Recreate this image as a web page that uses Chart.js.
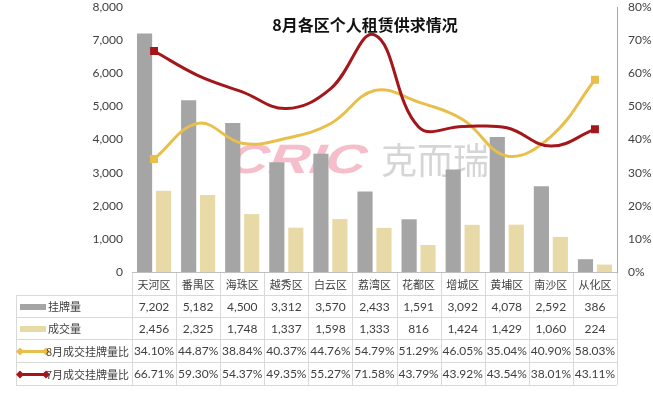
<!DOCTYPE html>
<html>
<head>
<meta charset="utf-8">
<script src="https://cdn.jsdelivr.net/npm/chart.js@4/dist/chart.umd.min.js"></script>
<style>
  html, body { margin: 0; padding: 0; background: #fff; }
  #wrap { width: 653px; height: 409px; }
</style>
</head>
<body>
<div id="wrap"><canvas id="chart1" width="653" height="409"></canvas></div>
<script>
let districts = [`天河区`, `番禺区`, `海珠区`, `越秀区`, `白云区`, `荔湾区`, `花都区`, `增城区`, `黄埔区`, `南沙区`, `从化区`];
let listing = [7202, 5182, 4500, 3312, 3570, 2433, 1591, 3092, 4078, 2592, 386];
let deals = [2456, 2325, 1748, 1337, 1598, 1333, 816, 1424, 1429, 1060, 224];
let ratioAug = [34.10, 44.87, 38.84, 40.37, 44.76, 54.79, 51.29, 46.05, 35.04, 40.90, 58.03];
let ratioJul = [66.71, 59.30, 54.37, 49.35, 55.27, 71.58, 43.79, 43.92, 43.54, 38.01, 43.11];

const GRAY = `#a5a5a5`;
const BEIGE = `#e8daa6`;
const YELLOW = `#e8bf4c`;
const RED = `#a3161a`;
const TEXT = `#404040`;
const CJK = `"Noto Sans CJK SC", "Noto Sans", sans-serif`;
const NUM = `Lato, "Noto Sans", sans-serif`;

// dots only at both ends of each line
const endPoint = (ctx) => (ctx.dataIndex === 0 || ctx.dataIndex === districts.length - 1) ? 3.5 : 0;

const fmtNum = (v) => v.toLocaleString(`en-US`);
const fmtPct = (v) => v.toFixed(2) + `%`;

// title + watermark
const decor = {
    id: `decor`,
    beforeDatasetsDraw(chart) {
        const ctx = chart.ctx;
        ctx.save();
        ctx.globalAlpha = 0.8;
        ctx.fillStyle = `#f2aebd`;
        ctx.font = `italic bold 41px "Liberation Sans", sans-serif`;
        ctx.textBaseline = `middle`;
        ctx.translate(228, 162);
        ctx.transform(1, 0, -0.15, 1, 0, 0);
        ctx.scale(1.38, 1);
        ctx.fillText(`CRIC`, 0, 0);
        ctx.restore();
        ctx.save();
        ctx.globalAlpha = 0.8;
        ctx.fillStyle = `#cacaca`;
        ctx.font = `36px ` + CJK;
        ctx.textBaseline = `middle`;
        ctx.fillText(`克而瑞`, 381, 160);
        ctx.restore();
    },
    afterDraw(chart) {
        const ctx = chart.ctx;
        ctx.save();
        ctx.fillStyle = `#111`;
        ctx.font = `bold 16px ` + CJK;
        ctx.textAlign = `center`;
        ctx.textBaseline = `middle`;
        ctx.fillText(`8月各区个人租赁供求情况`, 365, 25);
        ctx.restore();
    }
};

// data table under the plot
const dataTable = {
    id: `dataTable`,
    afterDraw(chart) {
        const { ctx, chartArea } = chart;
        const x = chart.scales.x;
        const colW = (chartArea.right - chartArea.left) / districts.length;
        const left = 16;
        const top = chartArea.bottom + 1;
        const rowY = [top, 295, 317, 339, 362, 385];
        const rows = [
            { label: `挂牌量`, values: listing, fmt: fmtNum, kind: `bar`, color: GRAY },
            { label: `成交量`, values: deals, fmt: fmtNum, kind: `bar`, color: BEIGE },
            { label: `8月成交挂牌量比`, values: ratioAug, fmt: fmtPct, kind: `line`, color: YELLOW },
            { label: `7月成交挂牌量比`, values: ratioJul, fmt: fmtPct, kind: `line`, color: RED }
        ];
        ctx.save();
        ctx.strokeStyle = `#d9d9d9`;
        ctx.lineWidth = 1;
        // horizontal lines
        for (let r = 1; r < rowY.length; r++) {
            ctx.beginPath();
            ctx.moveTo(left, rowY[r] + 0.5);
            ctx.lineTo(chartArea.right, rowY[r] + 0.5);
            ctx.stroke();
        }
        // vertical lines
        ctx.beginPath();
        ctx.moveTo(left + 0.5, rowY[1]);
        ctx.lineTo(left + 0.5, rowY[5]);
        for (let i = 0; i <= districts.length; i++) {
            const xx = Math.round(chartArea.left + i * colW) + 0.5;
            ctx.moveTo(xx, top);
            ctx.lineTo(xx, rowY[5]);
        }
        ctx.stroke();

        ctx.fillStyle = TEXT;
        ctx.font = `11px ` + CJK;
        ctx.textAlign = `center`;
        ctx.textBaseline = `middle`;
        districts.forEach((d, i) => {
            ctx.fillText(d, x.getPixelForValue(i), (rowY[0] + rowY[1]) / 2 + 1);
        });
        rows.forEach((row, r) => {
            const cy = (rowY[r + 1] + rowY[r + 2]) / 2 + 1;
            ctx.fillStyle = TEXT;
            ctx.textAlign = `center`;
            ctx.font = `12px ` + NUM;
            row.values.forEach((v, i) => {
                ctx.fillText(row.fmt(v), x.getPixelForValue(i), cy);
            });
            // legend key
            if (row.kind === `bar`) {
                ctx.fillStyle = row.color;
                ctx.fillRect(20, cy - 3, 26, 6);
            } else {
                ctx.strokeStyle = row.color;
                ctx.lineWidth = 3;
                ctx.beginPath();
                ctx.moveTo(20, cy);
                ctx.lineTo(46, cy);
                ctx.stroke();
                ctx.fillStyle = row.color;
                [20, 46].forEach(px => {
                    ctx.beginPath();
                    ctx.moveTo(px, cy - 4);
                    ctx.lineTo(px + 4, cy);
                    ctx.lineTo(px, cy + 4);
                    ctx.lineTo(px - 4, cy);
                    ctx.closePath();
                    ctx.fill();
                });
            }
            ctx.fillStyle = TEXT;
            ctx.textAlign = `left`;
            ctx.font = `11px ` + CJK;
            ctx.fillText(row.label, row.kind === `bar` ? 48 : 46, cy);
        });
        ctx.restore();
    }
};

let canva1 = document.querySelector(`#chart1`);

new Chart(canva1, {
    type: `bar`,
    data: {
        labels: districts,
        datasets: [
            {
                type: `line`,
                label: `7月成交挂牌量比`,
                data: ratioJul,
                yAxisID: `y1`,
                borderColor: RED,
                backgroundColor: RED,
                borderWidth: 3,
                tension: 0.4,
                pointStyle: `rect`,
                pointRadius: endPoint,
                order: 0
            },
            {
                type: `line`,
                label: `8月成交挂牌量比`,
                data: ratioAug,
                yAxisID: `y1`,
                borderColor: YELLOW,
                backgroundColor: YELLOW,
                borderWidth: 3,
                tension: 0.4,
                pointStyle: `rect`,
                pointRadius: endPoint,
                order: 1
            },
            {
                label: `挂牌量`,
                data: listing,
                backgroundColor: GRAY,
                categoryPercentage: 0.86,
                barPercentage: 0.8,
                order: 2
            },
            {
                label: `成交量`,
                data: deals,
                backgroundColor: BEIGE,
                categoryPercentage: 0.86,
                barPercentage: 0.8,
                order: 2
            }
        ]
    },
    options: {
        responsive: false,
        animation: false,
        layout: { padding: { top: 7, left: 0, right: 0, bottom: 0 } },
        plugins: {
            legend: { display: false },
            tooltip: { enabled: false }
        },
        scales: {
            x: {
                grid: { display: false, drawTicks: false },
                ticks: { display: false },
                border: { display: true, color: `#bfbfbf` },
                afterFit(s) { s.height = 137; }
            },
            y: {
                position: `left`,
                min: 0,
                max: 8000,
                grid: { display: false, drawTicks: false },
                border: { display: false },
                ticks: {
                    stepSize: 1000,
                    padding: 9,
                    color: TEXT,
                    font: { size: 12, family: NUM }
                },
                afterFit(s) { s.width = 132; s.paddingTop = 7; }
            },
            y1: {
                position: `right`,
                min: 0,
                max: 80,
                grid: { display: false, drawTicks: true, tickLength: 5, tickColor: `#a6a6a6` },
                border: { display: true, color: `#a6a6a6` },
                ticks: {
                    stepSize: 10,
                    padding: 6,
                    color: TEXT,
                    font: { size: 12, family: NUM },
                    callback: (v) => v + `%`
                },
                afterFit(s) { s.width = 36; s.paddingTop = 7; }
            }
        }
    },
    plugins: [decor, dataTable]
});
</script>
</body>
</html>
